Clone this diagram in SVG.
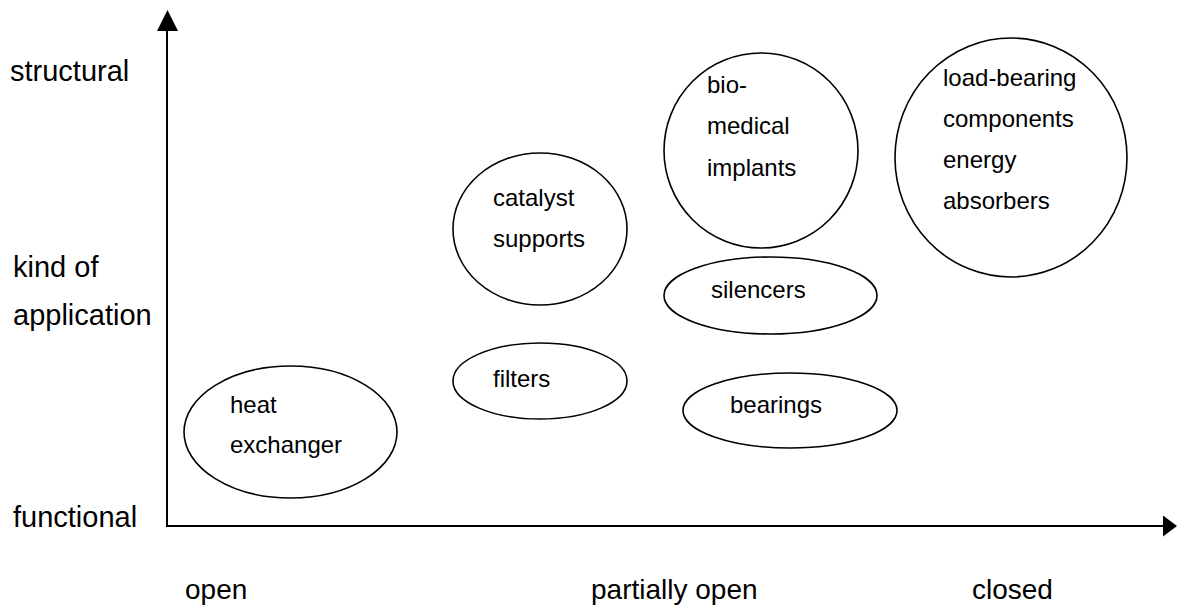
<svg xmlns="http://www.w3.org/2000/svg" width="1177" height="608" viewBox="0 0 1177 608">
<style>
.ax{font-family:"Liberation Sans",Arial,sans-serif;font-size:28px;fill:#000}
.ay{font-family:"Liberation Sans",Arial,sans-serif;font-size:29px;fill:#000}
.lb{font-family:"Liberation Sans",Arial,sans-serif;font-size:24px;fill:#000}
.el{fill:#fff;stroke:#000;stroke-width:1.6}
.axis{stroke:#000;stroke-width:2;fill:none}
</style>
<rect width="1177" height="608" fill="#fff"/>
<g id="axes">
<line class="axis" x1="167" y1="527" x2="167" y2="30"/>
<polygon points="167.5,10 157,31 178,31" fill="#000"/>
<line class="axis" x1="166" y1="526" x2="1164" y2="526"/>
<polygon points="1177,526 1163,515.5 1163,536.5" fill="#000"/>
</g>
<g id="axis-labels">
<text class="ay" x="10" y="81">structural</text>
<text class="ay" x="13" y="277">kind of</text>
<text class="ay" x="13" y="325">application</text>
<text class="ay" x="13" y="527">functional</text>
<text class="ax" x="185" y="599">open</text>
<text class="ax" x="591" y="599">partially open</text>
<text class="ax" x="972" y="599">closed</text>
</g>
<g id="heat-exchanger">
<ellipse class="el" cx="290.5" cy="432" rx="106.5" ry="66"/>
<text class="lb" x="230" y="413">heat</text>
<text class="lb" x="230" y="453">exchanger</text>
</g>
<g id="catalyst-supports">
<ellipse class="el" cx="540" cy="229" rx="87" ry="76"/>
<text class="lb" x="493" y="206">catalyst</text>
<text class="lb" x="493" y="247">supports</text>
</g>
<g id="filters">
<ellipse class="el" cx="540" cy="381" rx="87" ry="38"/>
<text class="lb" x="493" y="387">filters</text>
</g>
<g id="biomedical-implants">
<ellipse class="el" cx="761" cy="150.5" rx="97" ry="97.5"/>
<text class="lb" x="707" y="93">bio-</text>
<text class="lb" x="707" y="134">medical</text>
<text class="lb" x="707" y="176">implants</text>
</g>
<g id="silencers">
<ellipse class="el" cx="770.5" cy="295.5" rx="106.5" ry="38.5"/>
<text class="lb" x="711" y="298">silencers</text>
</g>
<g id="bearings">
<ellipse class="el" cx="790" cy="410.5" rx="107" ry="37.5"/>
<text class="lb" x="730" y="413">bearings</text>
</g>
<g id="load-bearing">
<ellipse class="el" cx="1011" cy="157.5" rx="116" ry="119.5"/>
<text class="lb" x="943" y="86">load-bearing</text>
<text class="lb" x="943" y="127">components</text>
<text class="lb" x="943" y="168">energy</text>
<text class="lb" x="943" y="209">absorbers</text>
</g>
</svg>
